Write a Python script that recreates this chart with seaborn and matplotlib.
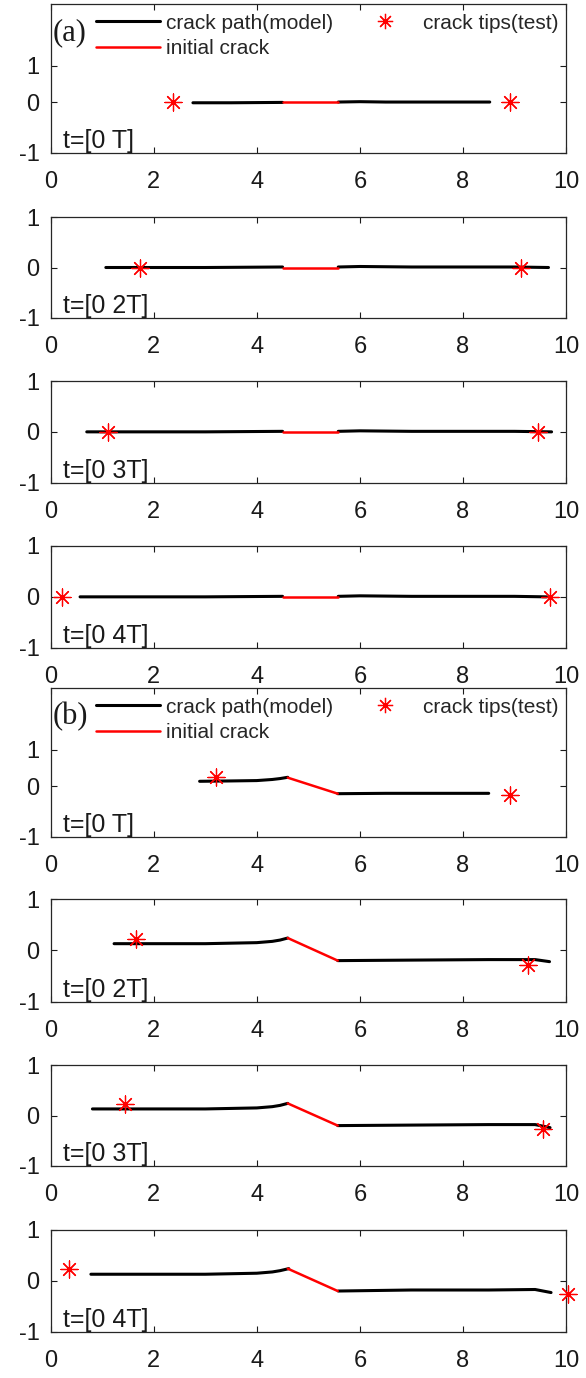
import matplotlib
matplotlib.use("Agg")
import matplotlib.pyplot as plt
import seaborn as sns
from matplotlib.lines import Line2D

# Style settings
sns.set_theme(style="white")
plt.rcParams['font.family'] = ['Liberation Sans', 'DejaVu Sans']
plt.rcParams['axes.unicode_minus'] = False

times = ['T', '2T', '3T', '4T']

# ---- (a) straight crack ----
a_left_x = [[2.76, 3.5, 4.5], [1.07, 2.0, 3.0, 4.5], [0.70, 2.0, 3.0, 4.5], [0.57, 2.0, 3.0, 4.5]]
a_left_y = [[-0.01, -0.01, 0.0], [0.0, 0.0, 0.0, 0.01], [0.0, 0.0, 0.0, 0.01], [0.0, 0.0, 0.0, 0.01]]
a_right_x = [[5.58, 6.0, 6.5, 7.5, 8.52], [5.58, 6.0, 7.0, 8.0, 9.0, 9.66],
             [5.58, 6.0, 7.0, 8.0, 9.0, 9.72], [5.58, 6.0, 7.0, 8.0, 9.0, 9.62]]
a_right_y = [[0.01, 0.02, 0.01, 0.01, 0.01], [0.01, 0.02, 0.01, 0.01, 0.01, 0.0],
             [0.01, 0.02, 0.01, 0.01, 0.01, 0.0], [0.01, 0.02, 0.01, 0.01, 0.01, 0.0]]
a_init_x = [4.5, 5.58]
a_init_y = [0.0, 0.0]
a_tip_x = [[2.37, 8.91], [1.73, 9.13], [1.12, 9.46], [0.22, 9.69]]
a_tip_y = [[0.0, 0.0], [0.0, 0.0], [0.0, 0.0], [0.0, 0.0]]

# ---- (b) inclined crack ----
b_left_x = [[2.89, 3.5, 4.0, 4.3, 4.45, 4.6], [1.23, 2.0, 3.0, 4.0, 4.3, 4.45, 4.6],
            [0.81, 2.0, 3.0, 4.0, 4.3, 4.45, 4.6], [0.78, 2.0, 3.0, 4.0, 4.3, 4.45, 4.62]]
b_left_y = [[0.14, 0.15, 0.16, 0.19, 0.215, 0.25], [0.13, 0.13, 0.13, 0.15, 0.175, 0.2, 0.24],
            [0.13, 0.13, 0.13, 0.15, 0.175, 0.2, 0.24], [0.13, 0.13, 0.13, 0.15, 0.175, 0.2, 0.24]]
b_right_x = [[5.57, 6.5, 7.5, 8.5], [5.57, 7.0, 8.5, 9.4, 9.68],
             [5.57, 7.0, 8.5, 9.4, 9.69], [5.58, 7.0, 8.5, 9.4, 9.71]]
b_right_y = [[-0.2, -0.19, -0.19, -0.19], [-0.2, -0.19, -0.18, -0.18, -0.22],
             [-0.2, -0.19, -0.18, -0.18, -0.24], [-0.2, -0.18, -0.18, -0.17, -0.23]]
b_init_x = [4.6, 5.57]
b_init_y = [0.24, -0.2]
b_tip_x = [[3.21, 8.91], [1.65, 9.27], [1.45, 9.55], [0.35, 10.04]]
b_tip_y = [[0.25, -0.23], [0.23, -0.28], [0.22, -0.26], [0.23, -0.26]]

legend_labels = ['crack path(model)', 'initial crack', 'crack tips(test)']

W, H = 586, 1378
# axes boxes in pixels (top, bottom)
boxes = [(4, 152.7), (217, 318), (381, 482.7), (546, 647.7),
         (688, 836.7), (899, 1001.7), (1065, 1166), (1230, 1331.7)]

ASTER = (8, 2, 0)


def draw_panel(ax, lx, ly, rx, ry, ix, iy, tx, ty, tlabel, letter=None):
	sns.lineplot(x=lx, y=ly, ax=ax, color='black', lw=2.2, sort=False, estimator=None)
	sns.lineplot(x=rx, y=ry, ax=ax, color='black', lw=2.2, sort=False, estimator=None)
	sns.lineplot(x=ix, y=iy, ax=ax, color='red', lw=1.8, sort=False, estimator=None)
	sns.scatterplot(x=tx, y=ty, ax=ax, marker=ASTER, color='red', s=150, linewidth=0.9,
	                clip_on=False, zorder=5)
	ax.set_xlim(0, 10)
	ax.set_xticks([0, 2, 4, 6, 8, 10])
	if letter is None:
		ax.set_ylim(-1, 1)
		ax.set_yticks([-1, 0, 1])
	else:
		ax.set_ylim(-1.38, 2.7)
		ax.set_yticks([-1.38, 0, 1])
		ax.set_yticklabels(['-1', '0', '1'])
	ax.tick_params(direction='in', length=4, width=0.8, top=True, right=True,
	               bottom=True, left=True, labelsize=17, colors='#1a1a1a')
	ax.tick_params(axis='x', pad=13)
	ax.tick_params(axis='y', pad=8)
	for sp in ax.spines.values():
		sp.set_color('#262626')
		sp.set_linewidth(0.9)
	ax.annotate('t=[0 %s]' % tlabel, xy=(0, 0), xycoords='axes fraction',
	            xytext=(8.5, 3.5), textcoords='offset points', fontsize=18,
	            va='baseline', ha='left', color='#1a1a1a')
	if letter is not None:
		ax.text(0.003, 0.81, letter, transform=ax.transAxes, fontsize=22,
		        family='Liberation Serif', va='center', ha='left', color='#1a1a1a')
		handles = [Line2D([], [], color='black', lw=2.2),
		           Line2D([], [], color='red', lw=1.8),
		           Line2D([], [], color='red', marker=ASTER, ls='none', ms=11, mew=0.9)]
		ax.legend(handles, legend_labels, ncol=2, loc='upper left',
		          bbox_to_anchor=(0.087, 0.935), frameon=False, fontsize=15,
		          handlelength=3.1, handletextpad=0.3, columnspacing=0.9,
		          labelspacing=0.3, borderpad=0, borderaxespad=0)
	ax.set_xlabel('')
	ax.set_ylabel('')


fig = plt.figure(figsize=(W / 100, H / 100), dpi=100)

for i, (top, bot) in enumerate(boxes):
	ax = fig.add_axes([50.7 / W, 1 - bot / H, 515.3 / W, (bot - top) / H])
	k = i % 4
	if i < 4:
		draw_panel(ax, a_left_x[k], a_left_y[k], a_right_x[k], a_right_y[k],
		           a_init_x, a_init_y, a_tip_x[k], a_tip_y[k], times[k],
		           '(a)' if k == 0 else None)
	else:
		draw_panel(ax, b_left_x[k], b_left_y[k], b_right_x[k], b_right_y[k],
		           b_init_x, b_init_y, b_tip_x[k], b_tip_y[k], times[k],
		           '(b)' if k == 0 else None)

fig.savefig('out.png', dpi=100)
